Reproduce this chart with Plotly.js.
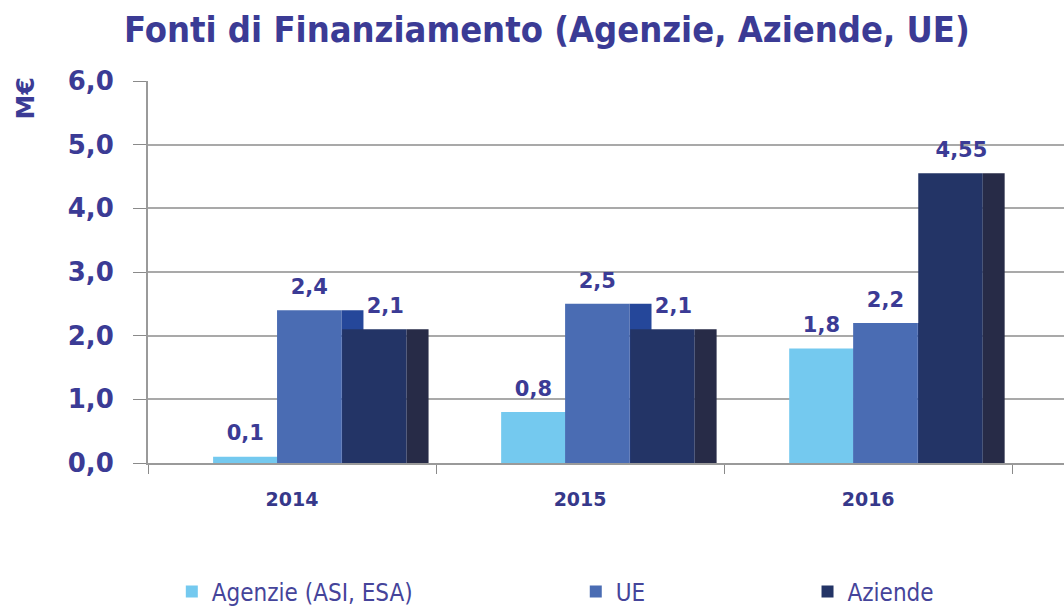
<!DOCTYPE html>
<html>
<head>
<meta charset="utf-8">
<script src="https://cdn.plot.ly/plotly-3.0.1.min.js"></script>
<style>html,body{margin:0;padding:0;background:#fff;}#chart{width:1064px;height:607px;}</style>
</head>
<body>
<div id="chart"></div>
<script>
// ---- data ----
const categories = ['2014', '2015', '2016'];
const seriesNames = ['Agenzie (ASI, ESA)', 'UE', 'Aziende'];
const agenzie = [0.1, 0.8, 1.8];
const ue = [2.4, 2.5, 2.2];
const aziende = [2.1, 2.1, 4.55];

// ---- styling ----
const frontColors = ['#74c9ef', '#4a6cb3', '#233466'];
const sideColors = ['#5aa9d2', '#25479a', '#272b47'];
const textColor = '#3b3b95';
const frontW = 0.224, sideW = 0.076;
const frontOffsets = [-0.274, -0.052, 0.174];
const labelShift = [frontW / 2, frontW / 2, (frontW + sideW) / 2];
const legendX = [0.026, 0.467, 0.72];
const legendIds = ['legend', 'legend2', 'legend3'];

const xIdx = categories.map((c, i) => i);
const values = [agenzie, ue, aziende];
const fmt = v => String(v).replace('.', ',');

const traces = [];
values.forEach((vals, s) => {
  traces.push({
    type: 'bar', x: xIdx, y: vals, name: seriesNames[s],
    offset: frontOffsets[s], width: frontW,
    marker: {color: frontColors[s], line: {width: 0}},
    legend: legendIds[s], hoverinfo: 'skip'
  });
  traces.push({
    type: 'bar', x: xIdx, y: vals, name: seriesNames[s] + ' side',
    offset: frontOffsets[s] + frontW, width: sideW,
    marker: {color: sideColors[s], line: {width: 0}},
    showlegend: false, hoverinfo: 'skip'
  });
});
values.forEach((vals, s) => {
  traces.push({
    type: 'scatter', mode: 'markers+text',
    x: xIdx.map(i => i + frontOffsets[s] + labelShift[s]), y: vals,
    text: vals.map(fmt), textposition: 'top center',
    marker: {size: 16, color: 'rgba(0,0,0,0)'},
    textfont: {family: 'DejaVu Sans, Verdana, sans-serif', size: 21, weight: 'bold', color: textColor},
    showlegend: false, hoverinfo: 'skip', cliponaxis: false
  });
});

const legendBase = {
  orientation: 'h', xanchor: 'left', yanchor: 'middle',
  yref: 'container', y: 0.025,
  bgcolor: 'rgba(0,0,0,0)',
  font: {family: 'Liberation Sans Narrow, DejaVu Sans Condensed, Liberation Sans, sans-serif', size: 24, color: '#45449a'}
};

const layout = {
  width: 1064, height: 607,
  margin: {l: 148, r: 0, t: 81, b: 144, pad: 0},
  paper_bgcolor: '#ffffff', plot_bgcolor: '#ffffff',
  barmode: 'overlay',
  separators: ',.',
  showlegend: true,
  title: {
    text: 'Fonti di Finanziamento (Agenzie, Aziende, UE)',
    x: 0.514, xanchor: 'center', y: 0.952, yanchor: 'middle',
    font: {family: 'DejaVu Sans Condensed, DejaVu Sans, sans-serif', size: 36, weight: 'bold', color: textColor}
  },
  xaxis: {
    range: [-0.5, 2.68], tickvals: xIdx, ticktext: categories,
    ticks: '', showgrid: false, zeroline: false,
    showline: true, linecolor: '#9a9a9a', linewidth: 2,
    tickfont: {family: 'DejaVu Sans, Verdana, sans-serif', size: 19, weight: 'bold', color: '#36388a'},
    ticklabelstandoff: 18,
    minor: {tickmode: 'array', tickvals: [-0.5, 0.5, 1.5, 2.5], ticks: 'outside', ticklen: 9, tickcolor: '#8a8a8a', tickwidth: 1, showgrid: false}
  },
  yaxis: {
    range: [0, 6], dtick: 1, tick0: 0, tickformat: '.1f',
    showline: true, linecolor: '#9a9a9a', linewidth: 2,
    ticks: 'outside', ticklen: 13, tickcolor: '#8a8a8a', tickwidth: 1,
    showgrid: true, gridcolor: '#a9a9a9', gridwidth: 2, zeroline: false,
    tickfont: {family: 'DejaVu Sans, Verdana, sans-serif', size: 26, weight: 'bold', color: textColor},
    ticklabelstandoff: 14
  },
  annotations: [{
    text: 'M€', xref: 'paper', yref: 'paper', x: -0.134, y: 0.955,
    xanchor: 'center', yanchor: 'middle', textangle: -90, showarrow: false,
    font: {family: 'DejaVu Sans, Verdana, sans-serif', size: 25, weight: 'bold', color: textColor}
  }],
  legend: Object.assign({}, legendBase, {x: legendX[0]}),
  legend2: Object.assign({}, legendBase, {x: legendX[1]}),
  legend3: Object.assign({}, legendBase, {x: legendX[2]})
};

Plotly.newPlot('chart', traces, layout, {displayModeBar: false, staticPlot: true});
</script>
</body>
</html>
